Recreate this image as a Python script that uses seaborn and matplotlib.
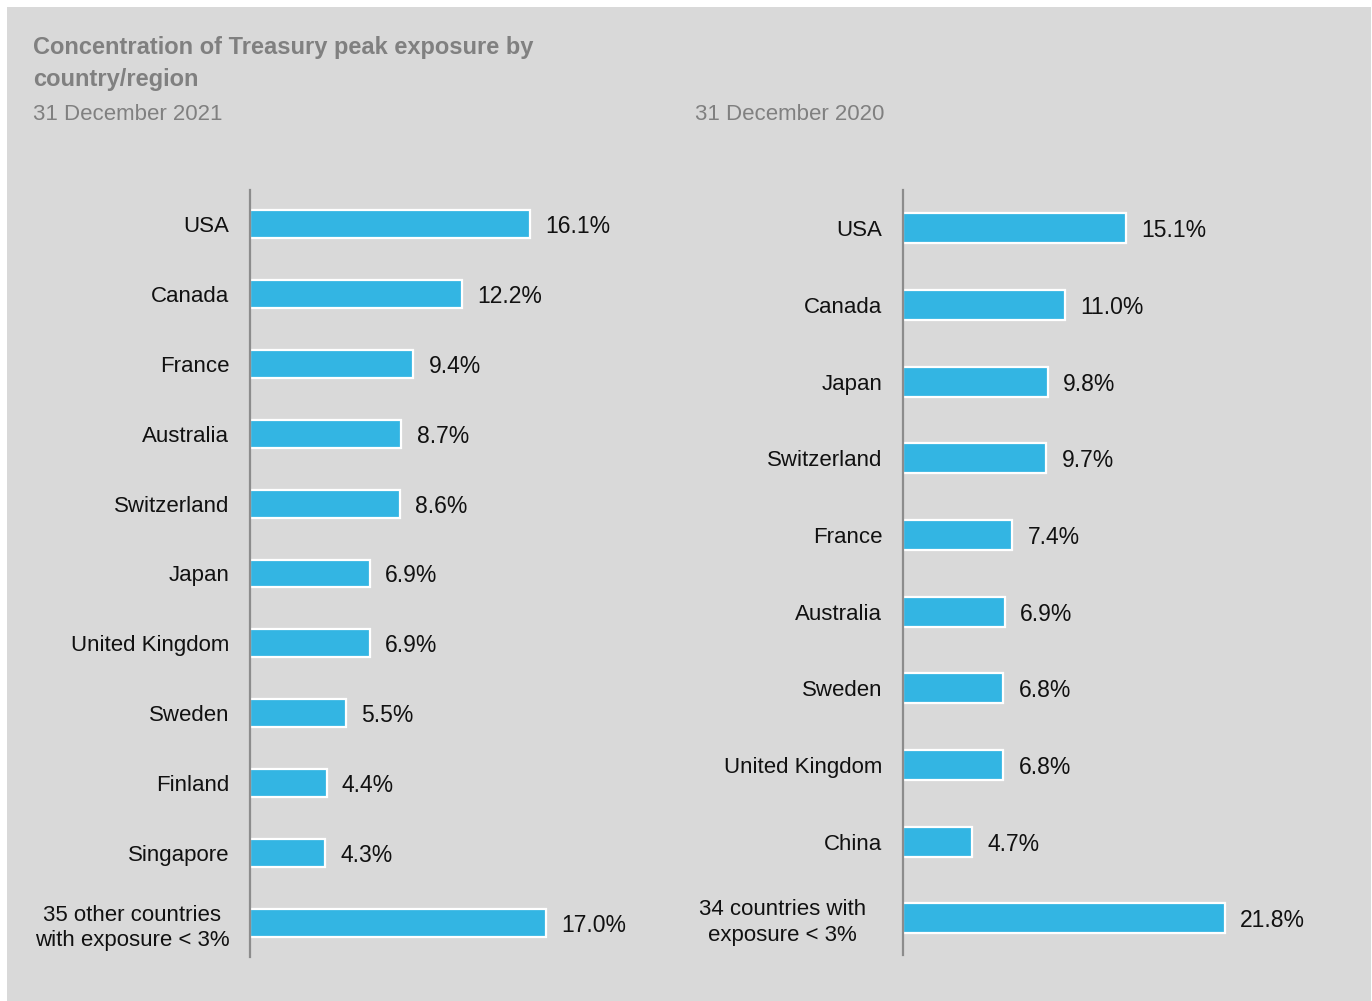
import matplotlib
matplotlib.use("Agg")
import matplotlib.pyplot as plt
import matplotlib.transforms as mtransforms
import seaborn as sns
import pandas as pd
from matplotlib.patches import Rectangle

countries_2021 = ["USA", "Canada", "France", "Australia", "Switzerland", "Japan",
                  "United Kingdom", "Sweden", "Finland", "Singapore",
                  "35 other countries\nwith exposure < 3%"]
values_2021 = [16.1, 12.2, 9.4, 8.7, 8.6, 6.9, 6.9, 5.5, 4.4, 4.3, 17.0]

countries_2020 = ["USA", "Canada", "Japan", "Switzerland", "France", "Australia",
                  "Sweden", "United Kingdom", "China",
                  "34 countries with\nexposure < 3%"]
values_2020 = [15.1, 11.0, 9.8, 9.7, 7.4, 6.9, 6.8, 6.8, 4.7, 21.8]

title = "Concentration of Treasury peak exposure by\ncountry/region"
sub_2021 = "31 December 2021"
sub_2020 = "31 December 2020"

sns.set_theme(style="white")
FONT = ["Liberation Sans Narrow", "Liberation Sans", "DejaVu Sans"]
plt.rcParams["font.family"] = FONT

W, H = 1372, 1001
fig = plt.figure(figsize=(W / 100, H / 100), dpi=100, facecolor="white")
BG = "#d9d9d9"
fig.patches.append(Rectangle((7 / W, 0), (1371 - 7) / W, (H - 7) / H,
                             transform=fig.transFigure, facecolor=BG,
                             edgecolor="none", zorder=-10))

BAR = "#33b5e3"

def panel(rect, cats, vals, xmax, ylim_lo, ylim_hi, bar_w):
    ax = fig.add_axes(rect)
    ax.set_facecolor("none")
    ax.patch.set_alpha(0)
    df = pd.DataFrame({"cat": cats, "val": vals})
    sns.barplot(data=df, y="cat", x="val", orient="h", color=BAR,
                edgecolor="white", linewidth=1.6, width=bar_w,
                saturation=1, ax=ax)
    for p in ax.patches:
        p.set_facecolor(BAR)
    texts = ax.bar_label(ax.containers[0], labels=[f"{v:.1f}%" for v in vals],
                         padding=11, fontsize=16.5, color="#111111")
    for t in texts:
        t.set_va("center_baseline")
    ax.set_xlim(0, xmax)
    ax.set_ylim(ylim_hi, ylim_lo)
    ax.set_xlabel("")
    ax.set_ylabel("")
    ax.set_xticks([])
    for s in ["top", "right", "bottom"]:
        ax.spines[s].set_visible(False)
    ax.spines["left"].set_color("#8c8c8c")
    ax.spines["left"].set_linewidth(1.6)
    ax.tick_params(axis="y", length=0, pad=15, labelsize=16, labelcolor="#111111")
    for t in ax.get_yticklabels():
        t.set_multialignment("center")
        t.set_linespacing(1.3)
    return ax

ax1 = panel([250 / W, 1 - 957 / H, 400 / W, 767 / H], countries_2021, values_2021,
            400 / 17.39, -0.486, 10.486, 0.4)
ax2 = panel([903 / W, 1 - 955 / H, 397 / W, 765 / H], countries_2020, values_2020,
            397 / 14.77, -0.5, 9.48, 0.39)

# the last label of the 2020 panel sits a little further from the axis
last = ax2.get_yticklabels()[-1]
last.set_transform(last.get_transform() +
                   mtransforms.ScaledTranslation(-0.16, 0.01, fig.dpi_scale_trans))

fig.text(33 / W, 1 - 36 / H, title, ha="left", va="top", fontsize=17,
         fontweight="bold", color="#808080", linespacing=1.5)
fig.text(33 / W, 1 - 114 / H, sub_2021, ha="left", va="center", fontsize=16,
         color="#808080")
fig.text(695 / W, 1 - 114 / H, sub_2020, ha="left", va="center", fontsize=16,
         color="#808080")

fig.savefig("out.png", dpi=100, facecolor="white")
